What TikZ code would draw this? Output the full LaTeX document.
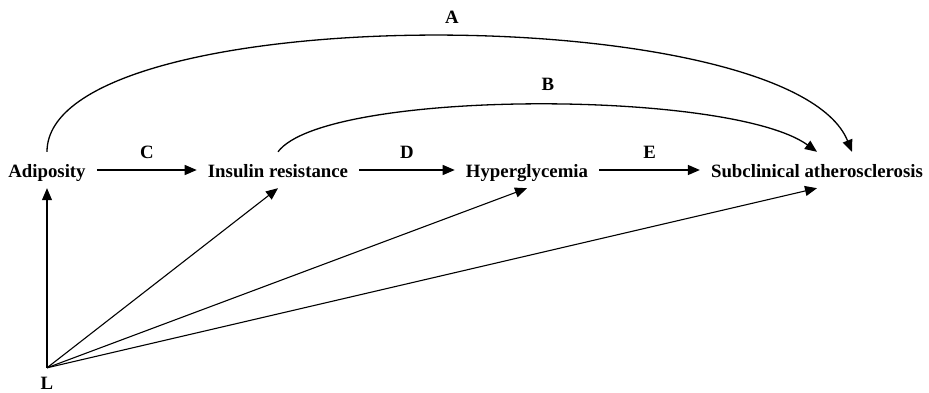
\documentclass[tikz,border=0pt]{standalone}
\usepackage{fontspec}
\setmainfont{Liberation Serif}
\usetikzlibrary{arrows.meta}
\begin{document}
\begin{tikzpicture}[x={(1pt,0)},y={(0,-1pt)},
  every node/.style={font=\fontsize{18.8}{21}\selectfont\bfseries},
  var/.style={inner xsep=11pt,inner ysep=0pt,text height=25pt,text depth=11pt,anchor=base},
  lbl/.style={inner sep=0pt,anchor=base},
  arr/.style={-{Triangle[length=12pt,width=10pt]},line width=1.3pt},
  larr/.style={-{Triangle[length=12pt,width=10pt]},line width=1.1pt}]
\useasboundingbox (0,0) rectangle (929,393);
\node[var] (adi) at (47,177) {Adiposity};
\node[var] (ins) at (278,177) {Insulin resistance};
\node[var] (hyp) at (527,177) {Hyperglycemia};
\node[var] (sub) at (817,177) {Subclinical atherosclerosis};
\node[lbl,text height=21pt] (L) at (47,389) {L};
\node[lbl] (la) at (452,24) {A};
\node[lbl] (lb) at (548,91) {B};
\coordinate (aend) at ([xshift=35pt]sub.north);
\draw[arr] (adi) -- node[lbl,midway,yshift=12pt] (lc) {C} (ins);
\draw[arr] (ins) -- node[lbl,midway,yshift=12pt] (ld) {D} (hyp);
\draw[arr] (hyp) -- node[lbl,midway,yshift=12pt] (le) {E} (sub);
\draw[arr] (adi.north) .. controls (47,-2) and (790,-2) .. (aend);
\draw[arr] (ins.north) .. controls (325,89) and (730,89) .. (sub.north);
\draw[larr] (L.north) -- (adi.south);
\draw[larr] (L.north) -- (ins.south);
\draw[larr] (L.north) -- (hyp.south);
\draw[larr] (L.north) -- (sub.south);
\end{tikzpicture}
\end{document}
